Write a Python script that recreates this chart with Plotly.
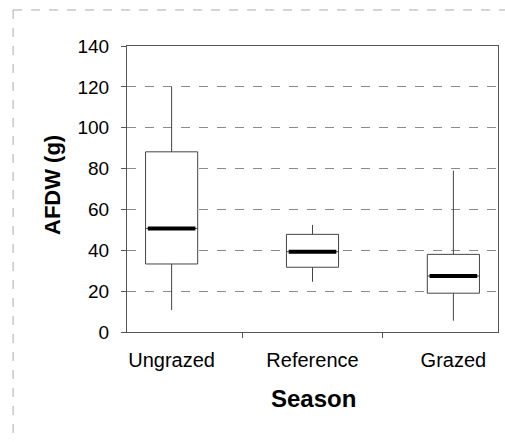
import plotly.graph_objects as go

categories = ["Ungrazed", "Reference", "Grazed"]
lower_whisker = [10.8, 24.6, 5.5]
q1_values = [33.3, 31.7, 19.0]
median_values = [50.7, 39.3, 27.4]
q3_values = [88.2, 47.8, 38.0]
upper_whisker = [120.0, 52.4, 79.0]
y_ticks = [0, 20, 40, 60, 80, 100, 120, 140]

FONT = "Liberation Sans, Arial, sans-serif"

fig = go.Figure()
fig.add_trace(go.Box(
    x=categories,
    q1=q1_values, median=median_values, q3=q3_values,
    lowerfence=lower_whisker, upperfence=upper_whisker,
    width=0.37, whiskerwidth=0,
    fillcolor="white",
    line=dict(color="#444444", width=1),
    showlegend=False, hoverinfo="skip",
))
fig.add_trace(go.Scatter(
    x=categories, y=median_values, mode="markers",
    marker=dict(symbol="line-ew-open", size=34, color="black",
                line=dict(color="black", width=4)),
    showlegend=False, hoverinfo="skip",
))

fig.update_layout(
    width=505, height=442,
    margin=dict(l=127, r=7, t=46, b=110),
    paper_bgcolor="white", plot_bgcolor="white",
    font=dict(family=FONT, color="black", size=18),
    xaxis=dict(
        type="category", categoryorder="array", categoryarray=categories,
        showline=True, linecolor="#555555", linewidth=1, mirror=True,
        ticks="outside", tickson="boundaries", ticklen=5, tickcolor="#555555",
        ticklabelstandoff=10,
        tickfont=dict(size=20),
        showgrid=False, zeroline=False,
    ),
    yaxis=dict(
        range=[0, 140], tickvals=y_ticks,
        showline=True, linecolor="#555555", linewidth=1, mirror=True,
        ticks="outside", ticklen=5, tickcolor="#555555",
        ticklabelstandoff=8,
        tickfont=dict(size=19),
        showgrid=True, gridcolor="#8a8a8a", griddash="dash", gridwidth=1,
        zeroline=False,
    ),
    annotations=[
        dict(text="<b>AFDW (g)</b>", x=-0.1995, y=0.514, xref="paper", yref="paper",
             textangle=-90, showarrow=False, xanchor="center", yanchor="middle",
             font=dict(size=22, family=FONT)),
        dict(text="<b>Season</b>", x=0.504, y=-0.231, xref="paper", yref="paper",
             showarrow=False, xanchor="center", yanchor="middle",
             font=dict(size=24, family=FONT)),
    ],
    shapes=[
        dict(type="line", xref="paper", yref="paper", x0=-0.307, x1=1.03, y0=1.126, y1=1.126,
             line=dict(color="#aaaaaa", width=1, dash="dash")),
        dict(type="line", xref="paper", yref="paper", x0=-0.307, x1=-0.307, y0=1.126, y1=-0.4,
             line=dict(color="#aaaaaa", width=1, dash="dash")),
    ],
)

fig.write_html(
    "out.html",
    config={"displayModeBar": False},
    post_script="document.body.style.margin='0';document.body.style.overflow='hidden';",
)
